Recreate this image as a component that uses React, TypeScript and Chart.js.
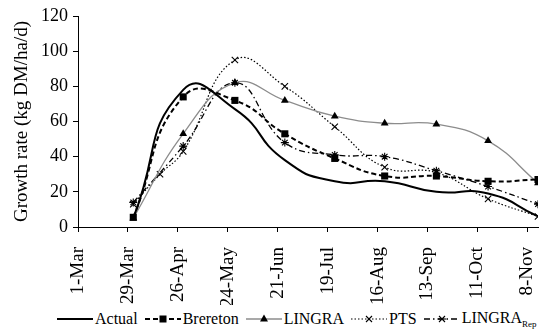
import React, { useEffect, useRef } from "react";
import { Chart, registerables } from "chart.js";

Chart.register(...registerables);

// ---- data ----
const tickDays = [0, 28, 56, 84, 112, 140, 168, 196, 224, 252];
const tickLabels = ["1-Mar", "29-Mar", "26-Apr", "24-May", "21-Jun", "19-Jul", "16-Aug", "13-Sep", "11-Oct", "8-Nov"];
const sampleDays = [31, 59, 88, 116, 144, 172, 201, 230, 258];
const actual = [5, 78, 67, 38, 26, 26, 20, 19, 6];
const brereton = [5.5, 74, 72, 53, 39, 29, 29, 26, 27];
const lingra = [5, 53, 82, 72, 63, 59, 58.5, 49, 25];
const ptsDays = [31, 46, 59, 88, 116, 144, 172, 201, 230, 258];
const pts = [13, 30, 43, 95, 80, 57, 34, 31, 16, 6];
const lingraRep = [14, 46, 82, 48, 41, 40, 32, 23, 13];
const yMax = 120;
const yStep = 20;
const xMax = 258;

const FONT = "'Liberation Serif', 'Times New Roman', serif";

const toXY = (xs: number[], ys: number[]) => xs.map((x, i) => ({ x, y: ys[i] }));

function Sample({ kind }: { kind: string }) {
  const w = 36;
  const h = 12;
  const cy = 6;
  const cx = w / 2;
  let line: any = null;
  let marker: any = null;
  if (kind === "actual") {
    line = <line x1={0} y1={cy} x2={w} y2={cy} stroke="#000" strokeWidth={2} />;
  } else if (kind === "brereton") {
    line = <line x1={0} y1={cy} x2={w} y2={cy} stroke="#000" strokeWidth={2} strokeDasharray="5 3" />;
    marker = <rect x={cx - 3.5} y={cy - 3.5} width={7} height={7} fill="#000" />;
  } else if (kind === "lingra") {
    line = <line x1={0} y1={cy} x2={w} y2={cy} stroke="#8c8c8c" strokeWidth={1.3} />;
    marker = <polygon points={`${cx},${cy - 4.5} ${cx + 4},${cy + 2.5} ${cx - 4},${cy + 2.5}`} fill="#000" />;
  } else if (kind === "pts") {
    line = <line x1={0} y1={cy} x2={w} y2={cy} stroke="#000" strokeWidth={1.2} strokeDasharray="1.5 2" />;
    marker = (
      <g stroke="#000" strokeWidth={1.1}>
        <line x1={cx - 3} y1={cy - 3} x2={cx + 3} y2={cy + 3} />
        <line x1={cx - 3} y1={cy + 3} x2={cx + 3} y2={cy - 3} />
      </g>
    );
  } else {
    line = <line x1={0} y1={cy} x2={w} y2={cy} stroke="#000" strokeWidth={1.3} strokeDasharray="6 3 1.5 3" />;
    marker = (
      <g stroke="#000" strokeWidth={1.1}>
        <line x1={cx - 3} y1={cy - 3} x2={cx + 3} y2={cy + 3} />
        <line x1={cx - 3} y1={cy + 3} x2={cx + 3} y2={cy - 3} />
        <line x1={cx - 4} y1={cy} x2={cx + 4} y2={cy} />
      </g>
    );
  }
  return (
    <svg width={w} height={h} style={{ display: "block", marginRight: 2 }}>
      {line}
      {marker}
    </svg>
  );
}

export default function App() {
  const ref = useRef<HTMLCanvasElement | null>(null);

  useEffect(() => {
    if (!ref.current) return;
    const chart = new Chart(ref.current, {
      type: "line",
      data: {
        datasets: [
          {
            label: "Actual",
            data: toXY(sampleDays, actual),
            borderColor: "#000",
            borderWidth: 2,
            pointRadius: 0,
            tension: 0.55,
          },
          {
            label: "Brereton",
            data: toXY(sampleDays, brereton),
            borderColor: "#000",
            borderWidth: 2,
            borderDash: [5, 3],
            pointStyle: "rect",
            pointRadius: 5,
            pointBackgroundColor: "#000",
            pointBorderColor: "#000",
            pointBorderWidth: 0,
            tension: 0.5,
          },
          {
            label: "LINGRA",
            data: toXY(sampleDays, lingra),
            borderColor: "#8c8c8c",
            borderWidth: 1.3,
            pointStyle: "triangle",
            pointRadius: 4.5,
            pointBackgroundColor: "#000",
            pointBorderColor: "#000",
            pointBorderWidth: 0,
            tension: 0.45,
          },
          {
            label: "PTS",
            data: toXY(ptsDays, pts),
            borderColor: "#000",
            borderWidth: 1.2,
            borderDash: [1.5, 2],
            pointStyle: "crossRot",
            pointRadius: 4.5,
            pointBorderColor: "#000",
            pointBorderWidth: 1.1,
            tension: 0.45,
          },
          {
            label: "LINGRA_Rep",
            data: toXY(sampleDays, lingraRep),
            borderColor: "#000",
            borderWidth: 1.3,
            borderDash: [6, 3, 1.5, 3],
            pointStyle: "star",
            pointRadius: 4,
            pointBorderColor: "#000",
            pointBorderWidth: 1.1,
            tension: 0.45,
          },
        ],
      },
      options: {
        responsive: false,
        animation: false,
        layout: { padding: { top: 16, right: 12, bottom: 0, left: 0 } },
        plugins: { legend: { display: false }, tooltip: { enabled: false } },
        scales: {
          x: {
            type: "linear",
            min: 0,
            max: xMax,
            afterBuildTicks: (scale: any) => {
              scale.ticks = tickDays.map((v) => ({ value: v }));
            },
            afterFit: (scale: any) => {
              scale.height = 78;
              scale.paddingLeft = 0;
              scale.paddingRight = 0;
            },
            border: { display: true, color: "#000", width: 1 },
            grid: { drawOnChartArea: false, drawTicks: true, tickLength: 5, color: "#000" },
            ticks: {
              autoSkip: false,
              minRotation: 90,
              maxRotation: 90,
              padding: 15,
              color: "#000",
              font: { family: FONT, size: 19 },
              callback: (v: any) => {
                const i = tickDays.indexOf(Number(v));
                return i >= 0 ? tickLabels[i] : "";
              },
            },
          },
          y: {
            min: 0,
            max: yMax,
            afterFit: (scale: any) => {
              scale.width = 78;
            },
            border: { display: true, color: "#000", width: 1 },
            grid: { drawOnChartArea: false, drawTicks: true, tickLength: 5, color: "#000" },
            ticks: {
              stepSize: yStep,
              padding: 5,
              color: "#000",
              font: { family: FONT, size: 18 },
            },
            title: {
              display: true,
              text: "Growth rate (kg DM/ha/d)",
              color: "#000",
              font: { family: FONT, size: 19 },
              padding: { top: 11, bottom: 0 },
            },
          },
        },
      },
    });
    return () => chart.destroy();
  }, []);

  const items = [
    { kind: "actual", text: "Actual" },
    { kind: "brereton", text: "Brereton" },
    { kind: "lingra", text: "LINGRA" },
    { kind: "pts", text: "PTS" },
    { kind: "rep", text: "LINGRA" },
  ];

  return (
    <div style={{ position: "fixed", left: 0, top: 0, width: 550, height: 336, background: "#fff", overflow: "hidden" }}>
      <canvas ref={ref} width={550} height={305} style={{ display: "block", width: 550, height: 305 }} />
      <div
        style={{
          position: "absolute",
          left: 57,
          top: 310,
          height: 18,
          display: "flex",
          alignItems: "center",
          fontFamily: FONT,
          fontSize: 16,
          color: "#000",
          whiteSpace: "nowrap",
        }}
      >
        {items.map((it, i) => (
          <div key={i} style={{ display: "flex", alignItems: "center", marginRight: 7 }}>
            <Sample kind={it.kind} />
            <span>
              {it.text}
              {it.kind === "rep" ? <sub style={{ fontSize: 9 }}>Rep</sub> : null}
            </span>
          </div>
        ))}
      </div>
    </div>
  );
}
